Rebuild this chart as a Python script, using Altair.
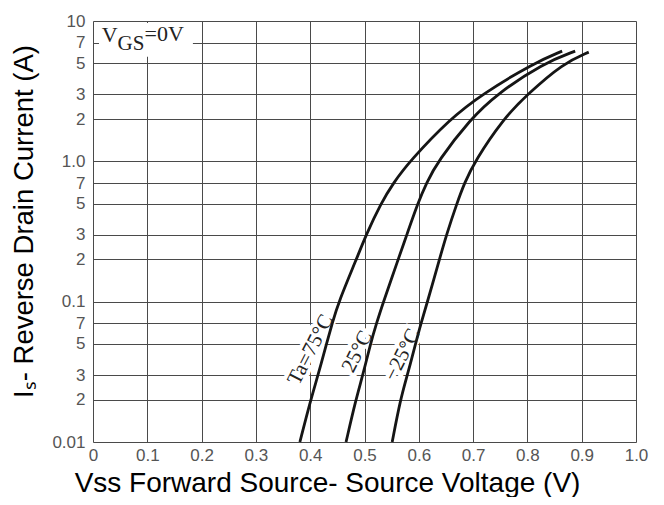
import altair as alt
import pandas as pd

# ---- data ----
curve_names = ["Ta=75°C", "25°C", "−25°C"]
i_pts = [0.01, 0.02, 0.03, 0.05, 0.07, 0.1, 0.2, 0.3, 0.5, 0.7, 1.0, 2.0, 3.0, 5.0]
v_75 = [0.381, 0.401, 0.4145, 0.430, 0.4405, 0.4525, 0.485, 0.503, 0.530, 0.553, 0.583, 0.657, 0.716, 0.811, 0.864]
i_75 = i_pts + [6.1]
v_25 = [0.466, 0.484, 0.497, 0.511, 0.522, 0.535, 0.562, 0.578, 0.598, 0.614, 0.635, 0.695, 0.743, 0.829, 0.888]
i_25 = i_pts + [6.1]
v_m25 = [0.551, 0.566, 0.579, 0.594, 0.604, 0.616, 0.638, 0.651, 0.670, 0.684, 0.703, 0.755, 0.800, 0.866, 0.913]
i_m25 = i_pts + [6.0]

x_ticks = [0, 0.1, 0.2, 0.3, 0.4, 0.5, 0.6, 0.7, 0.8, 0.9, 1.0]
x_tick_labels = ["0", "0.1", "0.2", "0.3", "0.4", "0.5", "0.6", "0.7", "0.8", "0.9", "1.0"]
y_ticks = [0.01, 0.02, 0.03, 0.05, 0.07, 0.1, 0.2, 0.3, 0.5, 0.7, 1.0, 2, 3, 5, 7, 10]
y_tick_labels = ["0.01", "2", "3", "5", "7", "0.1", "2", "3", "5", "7", "1.0", "2", "3", "5", "7", "10"]

# curve label annotations (centre position, in data units)
label_text = ["Ta=75°C", "25°C", "−25°C"]
label_v = [0.401, 0.487, 0.570]
label_i = [0.0454, 0.044, 0.0418]

# condition label
cond_parts = ["V", "GS", "=0V"]
cond_v = [0.016, 0.0453, 0.0948]
cond_i = [7.05, 6.21, 7.22]
cond_size = [22, 21, 22]
box_v = [0.011, 0.184]
box_i = [5.56, 9.68]

x_title = "Vss Forward Source- Source Voltage (V)"
y_title = "Iₛ- Reverse Drain Current (A)"

# ---- build tables ----
rows = []
for name, vs, iss in zip(curve_names, [v_75, v_25, v_m25], [i_75, i_25, i_m25]):
    for k, (v, i) in enumerate(zip(vs, iss)):
        rows.append({"curve": name, "v": v, "i": i, "order": k})
curves = pd.DataFrame(rows)
labels = pd.DataFrame({"t": label_text, "v": label_v, "i": label_i})
cond = pd.DataFrame({"t": cond_parts, "v": cond_v, "i": cond_i, "s": cond_size})
box = pd.DataFrame({"v": [box_v[0]], "v2": [box_v[1]], "i": [box_i[0]], "i2": [box_i[1]]})


def expr_from(values, texts):
    e = "''"
    for val, t in zip(reversed(values), reversed(texts)):
        e = f"abs(datum.value - {val}) < 1e-9 ? '{t}' : ({e})"
    return e


xscale = alt.Scale(domain=[0, 1], nice=False, zero=False)
yscale = alt.Scale(type="log", domain=[0.01, 10], nice=False)

xaxis = alt.Axis(values=x_ticks, labelExpr=expr_from(x_ticks, x_tick_labels),
                 grid=True, gridColor="#4a4a4a", gridWidth=1, gridOpacity=1,
                 ticks=False, domain=False, labelFontSize=17, labelColor="#555555",
                 labelFont="Liberation Sans", labelPadding=5, labelFlush=False,
                 title=x_title, titleFont="Liberation Sans", titleFontSize=28,
                 titleFontWeight="normal", titleColor="#000000", titleLimit=2000,
                 titleX=234, titleY=49, titleAlign="center", titleBaseline="alphabetic")
yaxis = alt.Axis(values=y_ticks, labelExpr=expr_from(y_ticks, y_tick_labels),
                 grid=True, gridColor="#4a4a4a", gridWidth=1, gridOpacity=1,
                 ticks=False, domain=False, labelFontSize=17, labelColor="#555555",
                 labelFont="Liberation Sans", labelPadding=8, labelFlush=False,
                 title=y_title, titleFont="Liberation Sans", titleFontSize=27.5,
                 titleFontWeight="normal", titleColor="#000000", titleLimit=2000,
                 titleX=-69, titleY=200, titleAngle=270, titleAlign="center",
                 titleBaseline="middle")

box_layer = alt.Chart(box).mark_rect(color="white").encode(
    x=alt.X("v:Q", scale=xscale, axis=xaxis), x2="v2:Q",
    y=alt.Y("i:Q", scale=yscale, axis=yaxis), y2="i2:Q")

halo = alt.Chart(labels).mark_text(
    font="Liberation Serif", fontSize=21, angle=297, align="center", baseline="middle",
    color="white", stroke="white", strokeWidth=8).encode(
    x=alt.X("v:Q", scale=xscale), y=alt.Y("i:Q", scale=yscale), text="t:N")

lines = alt.Chart(curves).mark_line(color="#151515", strokeWidth=2.8, interpolate="basis").encode(
    x=alt.X("v:Q", scale=xscale), y=alt.Y("i:Q", scale=yscale), detail="curve:N", order="order:Q")

texts = alt.Chart(labels).mark_text(
    font="Liberation Serif", fontSize=21, angle=297, align="center", baseline="middle",
    color="#222222").encode(
    x=alt.X("v:Q", scale=xscale), y=alt.Y("i:Q", scale=yscale), text="t:N")

cond_text = alt.Chart(cond).mark_text(
    font="Liberation Serif", align="left", baseline="alphabetic", color="#222222").encode(
    x=alt.X("v:Q", scale=xscale), y=alt.Y("i:Q", scale=yscale), text="t:N",
    size=alt.Size("s:Q", scale=None, legend=None))

chart = alt.layer(box_layer, halo, lines, texts, cond_text).properties(
    width=543, height=421,
    autosize=alt.AutoSizeParams(type="none"),
    padding={"left": 85, "top": 13, "right": 20, "bottom": 55},
).configure_view(stroke="#4a4a4a", strokeWidth=1.2).configure(background="white")

chart.save("out.html", embed_options={"renderer": "svg", "actions": False})
